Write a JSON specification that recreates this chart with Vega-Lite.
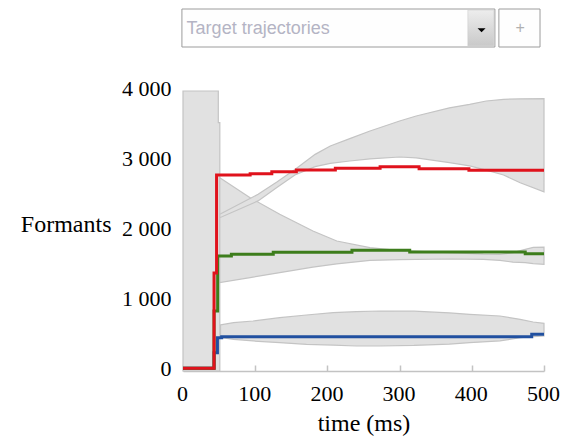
{
  "$schema": "https://vega.github.io/schema/vega-lite/v6.json",
  "background": "white",
  "padding": {"left": 20, "top": 8, "right": 5, "bottom": 2},
  "bounds": "flush",
  "spacing": 44,
  "config": {"view": {"stroke": null}},
  "vconcat": [
    {
      "width": 361,
      "height": 38,
      "data": {"values": [{"placeholder": "Target trajectories", "button": "+"}]},
      "layer": [
        {
          "mark": {"type": "rect", "fill": "#fefefe", "stroke": "#9c9c9c", "strokeWidth": 1},
          "encoding": {
            "x": {"datum": -0.3, "type": "quantitative", "scale": {"domain": [0, 100]}, "axis": null},
            "x2": {"datum": 86.4},
            "y": {"datum": 0, "type": "quantitative", "scale": {"domain": [0, 1]}, "axis": null},
            "y2": {"datum": 1}
          }
        },
        {
          "mark": {
            "type": "rect",
            "stroke": "#c8c8c8",
            "strokeWidth": 0.5,
            "fill": {
              "gradient": "linear", "x1": 0, "y1": 0, "x2": 0, "y2": 1,
              "stops": [{"offset": 0, "color": "#ededed"}, {"offset": 1, "color": "#c9c9c9"}]
            }
          },
          "encoding": {
            "x": {"datum": 78.9, "type": "quantitative", "scale": {"domain": [0, 100]}, "axis": null},
            "x2": {"datum": 86.1},
            "y": {"datum": 0.03, "type": "quantitative", "scale": {"domain": [0, 1]}, "axis": null},
            "y2": {"datum": 0.97}
          }
        },
        {
          "mark": {"type": "point", "shape": "M-1,-0.5L1,-0.5L0,0.5Z", "size": 64, "filled": true, "fill": "#000000", "strokeWidth": 0, "opacity": 1},
          "encoding": {
            "x": {"datum": 82.7, "type": "quantitative", "scale": {"domain": [0, 100]}, "axis": null},
            "y": {"datum": 0.44, "type": "quantitative", "scale": {"domain": [0, 1]}, "axis": null}
          }
        },
        {
          "mark": {"type": "text", "align": "left", "baseline": "alphabetic", "font": "Liberation Sans", "fontSize": 18, "fill": "#b4b4c4"},
          "encoding": {
            "x": {"datum": 1.0, "type": "quantitative", "scale": {"domain": [0, 100]}, "axis": null},
            "y": {"datum": 0.334, "type": "quantitative", "scale": {"domain": [0, 1]}, "axis": null},
            "text": {"field": "placeholder"}
          }
        },
        {
          "mark": {"type": "rect", "fill": "#fefefe", "stroke": "#9c9c9c", "strokeWidth": 1},
          "encoding": {
            "x": {"datum": 87.5, "type": "quantitative", "scale": {"domain": [0, 100]}, "axis": null},
            "x2": {"datum": 98.9},
            "y": {"datum": 0, "type": "quantitative", "scale": {"domain": [0, 1]}, "axis": null},
            "y2": {"datum": 1}
          }
        },
        {
          "mark": {"type": "text", "align": "center", "baseline": "middle", "font": "Liberation Sans", "fontSize": 16, "fill": "#b0b0b0"},
          "encoding": {
            "x": {"datum": 93.4, "type": "quantitative", "scale": {"domain": [0, 100]}, "axis": null},
            "y": {"datum": 0.5, "type": "quantitative", "scale": {"domain": [0, 1]}, "axis": null},
            "text": {"field": "button"}
          }
        }
      ]
    },
    {
      "width": 361,
      "height": 280,
      "layer": [
        {
          "data": {"values": [
            {"t": 0, "top": 4000},
            {"t": 48.9, "top": 3547},
            {"t": 51, "top": 3547}
          ]},
          "mark": {"type": "area", "interpolate": "step-after", "fill": "#e1e1e1", "stroke": "#c4c4c4", "strokeWidth": 1.2},
          "encoding": {
            "x": {
              "field": "t", "type": "quantitative",
              "scale": {"domain": [0, 500], "nice": false},
              "axis": {
                "title": "time (ms)",
                "values": [0, 100, 200, 300, 400, 500],
                "grid": false,
                "domainColor": "#c3c3c3",
                "domainWidth": 1.5,
                "tickColor": "#c3c3c3",
                "tickWidth": 1.5,
                "tickSize": -6,
                "labelPadding": 35,
                "labelFlush": false,
                "labelFont": "Liberation Serif",
                "labelFontSize": 22,
                "labelColor": "#000000",
                "labelBaseline": "alphabetic",
                "labelOffset": -1,
                "titleFont": "Liberation Serif",
                "titleFontSize": 24,
                "titleFontWeight": "normal",
                "titleColor": "#000000",
                "titleBaseline": "alphabetic",
                "titleY": 59
              }
            },
            "y": {
              "field": "top", "type": "quantitative",
              "scale": {"domain": [0, 4000], "nice": false},
              "axis": {
                "title": "Formants",
                "values": [0, 1000, 2000, 3000, 4000],
                "labelExpr": "replace(format(datum.value, ','), ',', ' ')",
                "grid": false,
                "domain": false,
                "ticks": false,
                "tickSize": 0,
                "labelPadding": 12,
                "labelFlush": false,
                "labelFont": "Liberation Serif",
                "labelFontSize": 22,
                "labelColor": "#000000",
                "labelBaseline": "middle",
                "labelOffset": -3,
                "titleAngle": 0,
                "titleAlign": "right",
                "titleBaseline": "alphabetic",
                "titleX": -72,
                "titleY": 140,
                "titleFont": "Liberation Serif",
                "titleFontSize": 24,
                "titleFontWeight": "normal",
                "titleColor": "#000000"
              }
            },
            "y2": {"datum": 0}
          }
        },
        {
          "data": {"values": [
            {"band": "F1", "t": 52, "lo": 480, "hi": 660},
            {"band": "F1", "t": 70, "lo": 452, "hi": 690},
            {"band": "F1", "t": 97, "lo": 429, "hi": 714},
            {"band": "F1", "t": 134, "lo": 405, "hi": 762},
            {"band": "F1", "t": 171, "lo": 381, "hi": 800},
            {"band": "F1", "t": 208, "lo": 370, "hi": 833},
            {"band": "F1", "t": 240, "lo": 357, "hi": 848},
            {"band": "F1", "t": 273, "lo": 357, "hi": 857},
            {"band": "F1", "t": 320, "lo": 365, "hi": 855},
            {"band": "F1", "t": 369, "lo": 385, "hi": 830},
            {"band": "F1", "t": 397, "lo": 405, "hi": 810},
            {"band": "F1", "t": 439, "lo": 430, "hi": 786},
            {"band": "F1", "t": 467, "lo": 475, "hi": 738},
            {"band": "F1", "t": 485, "lo": 490, "hi": 700},
            {"band": "F1", "t": 500, "lo": 500, "hi": 681},
            {"band": "F2", "t": 51, "lo": 1262, "hi": 2762},
            {"band": "F2", "t": 93, "lo": 1335, "hi": 2476},
            {"band": "F2", "t": 134, "lo": 1405, "hi": 2238},
            {"band": "F2", "t": 180, "lo": 1485, "hi": 2000},
            {"band": "F2", "t": 213, "lo": 1530, "hi": 1857},
            {"band": "F2", "t": 259, "lo": 1580, "hi": 1762},
            {"band": "F2", "t": 300, "lo": 1590, "hi": 1720},
            {"band": "F2", "t": 369, "lo": 1600, "hi": 1690},
            {"band": "F2", "t": 416, "lo": 1595, "hi": 1670},
            {"band": "F2", "t": 439, "lo": 1580, "hi": 1667},
            {"band": "F2", "t": 457, "lo": 1555, "hi": 1690},
            {"band": "F2", "t": 474, "lo": 1548, "hi": 1738},
            {"band": "F2", "t": 485, "lo": 1535, "hi": 1765},
            {"band": "F2", "t": 500, "lo": 1524, "hi": 1770},
            {"band": "F3", "t": 51, "lo": 2190, "hi": 2238},
            {"band": "F3", "t": 104, "lo": 2430, "hi": 2524},
            {"band": "F3", "t": 130, "lo": 2620, "hi": 2700},
            {"band": "F3", "t": 155, "lo": 2800, "hi": 2880},
            {"band": "F3", "t": 183, "lo": 2920, "hi": 3095},
            {"band": "F3", "t": 204, "lo": 2965, "hi": 3214},
            {"band": "F3", "t": 231, "lo": 3000, "hi": 3320},
            {"band": "F3", "t": 259, "lo": 3030, "hi": 3429},
            {"band": "F3", "t": 300, "lo": 3057, "hi": 3571},
            {"band": "F3", "t": 323, "lo": 3045, "hi": 3643},
            {"band": "F3", "t": 369, "lo": 2976, "hi": 3760},
            {"band": "F3", "t": 397, "lo": 2930, "hi": 3810},
            {"band": "F3", "t": 420, "lo": 2870, "hi": 3857},
            {"band": "F3", "t": 444, "lo": 2800, "hi": 3881},
            {"band": "F3", "t": 467, "lo": 2690, "hi": 3888},
            {"band": "F3", "t": 500, "lo": 2560, "hi": 3890}
          ]},
          "mark": {"type": "area", "fill": "#e1e1e1", "stroke": "#c4c4c4", "strokeWidth": 1.2},
          "encoding": {
            "x": {"field": "t", "type": "quantitative"},
            "y": {"field": "hi", "type": "quantitative"},
            "y2": {"field": "lo"},
            "detail": {"field": "band"}
          }
        },
        {
          "data": {"values": [
            {"formant": "F1", "t": 0, "f": 40},
            {"formant": "F1", "t": 43, "f": 261},
            {"formant": "F1", "t": 47.7, "f": 476},
            {"formant": "F1", "t": 53.6, "f": 490},
            {"formant": "F1", "t": 483, "f": 524},
            {"formant": "F1", "t": 500, "f": 524},
            {"formant": "F2", "t": 0, "f": 40},
            {"formant": "F2", "t": 43, "f": 857},
            {"formant": "F2", "t": 48, "f": 1643},
            {"formant": "F2", "t": 67, "f": 1667},
            {"formant": "F2", "t": 125, "f": 1695},
            {"formant": "F2", "t": 234, "f": 1724},
            {"formant": "F2", "t": 314, "f": 1700},
            {"formant": "F2", "t": 474, "f": 1676},
            {"formant": "F2", "t": 500, "f": 1676},
            {"formant": "F3", "t": 0, "f": 40},
            {"formant": "F3", "t": 43, "f": 1400},
            {"formant": "F3", "t": 46.5, "f": 2800},
            {"formant": "F3", "t": 93, "f": 2819},
            {"formant": "F3", "t": 123, "f": 2848},
            {"formant": "F3", "t": 157, "f": 2871},
            {"formant": "F3", "t": 211, "f": 2895},
            {"formant": "F3", "t": 273, "f": 2919},
            {"formant": "F3", "t": 327, "f": 2890},
            {"formant": "F3", "t": 396, "f": 2867},
            {"formant": "F3", "t": 500, "f": 2867}
          ]},
          "mark": {"type": "line", "interpolate": "step-after", "strokeWidth": 3},
          "encoding": {
            "x": {"field": "t", "type": "quantitative"},
            "y": {"field": "f", "type": "quantitative"},
            "color": {
              "field": "formant", "type": "nominal",
              "scale": {"domain": ["F1", "F2", "F3"], "range": ["#2150a0", "#3d7d1c", "#e0121c"]},
              "legend": null
            }
          }
        }
      ]
    }
  ]
}
